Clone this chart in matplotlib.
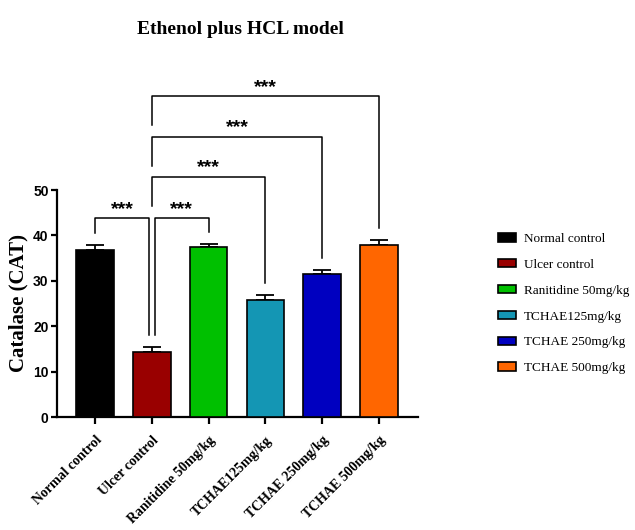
import numpy as np
import matplotlib.pyplot as plt
from matplotlib.patches import Patch

groups = ["Normal control", "Ulcer control", "Ranitidine 50mg/kg",
          "TCHAE125mg/kg", "TCHAE 250mg/kg", "TCHAE 500mg/kg"]
cat_mean = [36.8, 14.4, 37.4, 25.8, 31.6, 37.9]
cat_sem = [1.0, 1.1, 0.8, 1.1, 0.9, 1.1]
colors = ["#000000", "#990000", "#00C000", "#1496B4", "#0000C0", "#FF6600"]

# pairwise comparisons against the ulcer group
pairs = [(0, 1), (1, 2), (1, 3), (1, 4), (1, 5)]
signif = ["***", "***", "***", "***", "***"]

serif = "Liberation Serif"
sans = "Liberation Sans"

fig = plt.figure(figsize=(6.35, 5.3), dpi=100)
ax = fig.add_axes([0.0898, 0.2132, 0.5685, 0.685])

x = np.arange(len(groups))
ax.bar(x, cat_mean, width=0.66, color=colors, edgecolor="black", linewidth=1.2, zorder=3)
ax.errorbar(x, cat_mean, yerr=[np.zeros(len(x)), cat_sem], fmt="none",
            ecolor="black", elinewidth=1.3, capsize=6.8, capthick=1.3, zorder=2)

ax.set_xlim(-0.67, 5.69)
ax.set_ylim(0, 80)
ax.spines["top"].set_visible(False)
ax.spines["right"].set_visible(False)
ax.spines["left"].set_bounds(0, 50)
ax.spines["left"].set_linewidth(1.6)
ax.spines["bottom"].set_linewidth(1.6)
ax.set_yticks([0, 10, 20, 30, 40, 50])
ax.tick_params(axis="both", direction="out", width=1.6)
ax.tick_params(axis="y", length=4, pad=2)
ax.tick_params(axis="x", length=5, pad=7)
for lab in ax.get_yticklabels():
    lab.set_fontfamily(sans)
    lab.set_fontweight("bold")
    lab.set_fontsize(10)
ax.set_xticks(x)
ax.set_xticklabels(groups, rotation=45, ha="right", rotation_mode="anchor",
                   fontfamily=serif, fontweight="bold", fontsize=10)
ax.set_ylabel("Catalase (CAT)", fontfamily=serif, fontweight="bold", fontsize=15)
ax.yaxis.set_label_coords(-0.08, 0.314)

# significance brackets: (bar height, left leg end, right leg end)
levels = [(43.8, 40.5, 18.1), (43.8, 18.1, 40.7), (52.9, 46.5, 29.5),
          (61.7, 55.3, 35.0), (70.7, 64.3, 41.6)]
offsets = [(0, -0.05), (0.05, 0), (0, 0), (0, 0), (0, 0)]
for (i, j), s, (h, yl, yr), (dl, dr) in zip(pairs, signif, levels, offsets):
    xl, xr = i + dl, j + dr
    ax.plot([xl, xl, xr, xr], [yl, h, h, yr], color="black", lw=1.1,
            clip_on=False, zorder=4)
    ax.text((xl + xr) / 2, h + 1.0, s, ha="center", va="baseline",
            fontfamily=sans, fontweight="bold", fontsize=14)

fig.text(0.378, 0.945, "Ethenol plus HCL model", ha="center", va="center",
         fontfamily=serif, fontweight="bold", fontsize=14)

handles = [Patch(facecolor=c, edgecolor="black", linewidth=1.2) for c in colors]
fig.legend(handles, groups, loc="center left", bbox_to_anchor=(0.765, 0.427),
           frameon=False, prop={"family": serif, "size": 9.5},
           handlelength=1.4, handleheight=0.6, labelspacing=1.05, handletextpad=0.6)

fig.savefig("out.png", dpi=100)
